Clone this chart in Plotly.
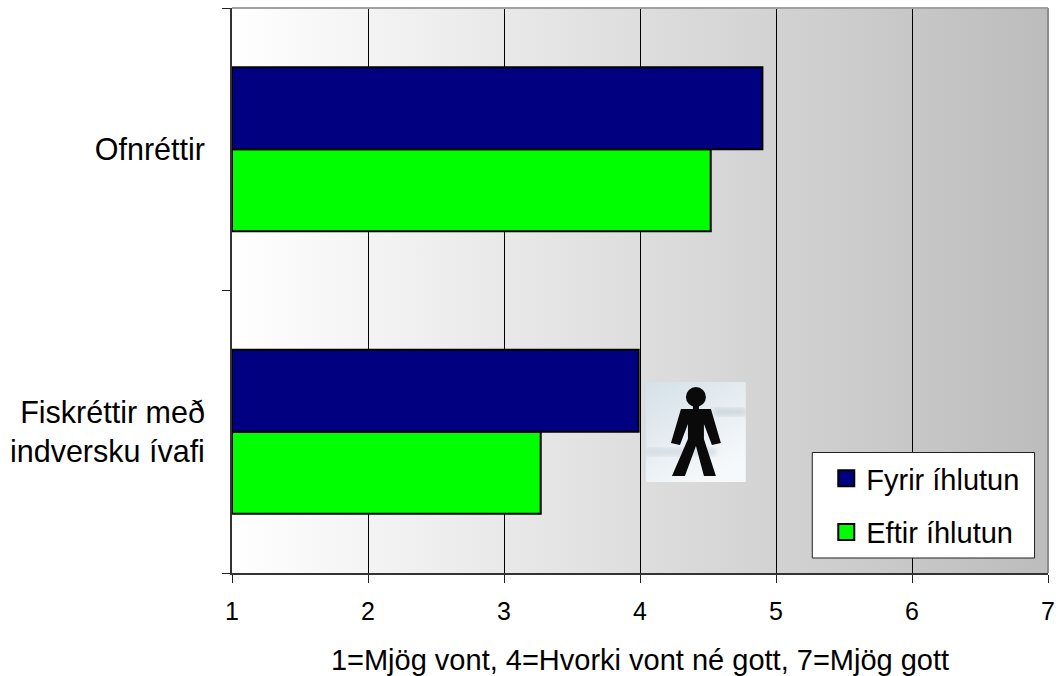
import base64
import plotly.graph_objects as go

categories = ["Fiskréttir með<br>indversku ívafi", "Ofnréttir"]
fyrir = [3.99, 4.90]
eftir = [3.27, 4.52]
x_ticks = [1, 2, 3, 4, 5, 6, 7]
x_title = "1=Mjög vont, 4=Hvorki vont né gott, 7=Mjög gott"
FONT = "Liberation Sans, Arial, sans-serif"


def svg_uri(svg):
    return "data:image/svg+xml;base64," + base64.b64encode(svg.encode()).decode()


def px_x(p):
    return (p - 231.5) / 817


def px_y(p):
    return (573 - p) / 565


gradient = svg_uri(
    '<svg xmlns="http://www.w3.org/2000/svg" width="100" height="100" preserveAspectRatio="none" viewBox="0 0 100 100">'
    '<defs><linearGradient id="g" x1="0" x2="1" y1="0" y2="0">'
    '<stop offset="0" stop-color="#ffffff"/><stop offset="1" stop-color="#bcbcbc"/>'
    '</linearGradient></defs><rect width="100" height="100" fill="url(#g)"/></svg>'
)
person = svg_uri(
    '<svg xmlns="http://www.w3.org/2000/svg" width="100" height="100" viewBox="0 0 100 100">'
    '<defs><linearGradient id="p" x1="0" x2="0.6" y1="0" y2="1">'
    '<stop offset="0" stop-color="#d5e0e8"/><stop offset="1" stop-color="#f6f9fb"/>'
    '</linearGradient><filter id="b"><feGaussianBlur stdDeviation="2"/></filter></defs>'
    '<rect width="100" height="100" fill="url(#p)"/>'
    '<rect x="68" y="26" width="32" height="8" fill="#b8c4cc" opacity="0.5" filter="url(#b)"/>'
    '<rect x="0" y="66" width="70" height="8" fill="#b8c4cc" opacity="0.35" filter="url(#b)"/>'
    '<circle cx="50" cy="15" r="10" fill="#0a0a0a"/>'
    '<path d="M47 22H53V28H47Z" fill="#0a0a0a"/>'
    '<path d="M35 27H65L75 61L66 63L58 42L58 57L70 94H58L50 64L39 94H26L42 57L42 42L34 63L25 61Z" fill="#0a0a0a"/>'
    '</svg>'
)

fig = go.Figure()
fig.add_bar(name="Eftir íhlutun", y=categories, x=[v - 1 for v in eftir], base=1, orientation="h",
            marker=dict(color="#00ff00", line=dict(color="#000000", width=2)), showlegend=False)
fig.add_bar(name="Fyrir íhlutun", y=categories, x=[v - 1 for v in fyrir], base=1, orientation="h",
            marker=dict(color="#000080", line=dict(color="#000000", width=2)), showlegend=False)
fig.add_scatter(name="Fyrir íhlutun", x=[None], y=[None], mode="markers", legendgroup="a",
                marker=dict(symbol="square", size=16, color="#000080", line=dict(color="#000000", width=2)))
fig.add_scatter(name="Eftir íhlutun", x=[None], y=[None], mode="markers", legendgroup="b",
                marker=dict(symbol="square", size=16, color="#00ff00", line=dict(color="#000000", width=2)))

fig.update_layout(
    width=1058, height=676,
    margin=dict(l=231.5, r=9.5, t=8, b=103, autoexpand=False),
    paper_bgcolor="#ffffff", plot_bgcolor="rgba(0,0,0,0)",
    barmode="group", bargap=0.42, bargroupgap=0,
    font=dict(family=FONT, color="#000000", size=24),
    xaxis=dict(range=[1, 7], tickvals=x_ticks, ticks="outside", ticklen=8, tickwidth=1,
               tickcolor="#222222", showline=True, linecolor="#333333", linewidth=2,
               showgrid=True, gridcolor="#000000", gridwidth=1, zeroline=False,
               tickfont=dict(size=25, family=FONT), ticklabelstandoff=7,
               title=dict(text=x_title, font=dict(size=29, family=FONT), standoff=26)),
    yaxis=dict(type="category", categoryorder="array", categoryarray=categories,
               range=[-0.5, 1.5], tickson="boundaries", ticks="outside", ticklen=8, tickwidth=1,
               tickcolor="#222222", showline=True, linecolor="#333333", linewidth=2,
               showgrid=False, zeroline=False, ticklabelstandoff=19,
               tickfont=dict(size=30.5, family=FONT)),
    legend=dict(x=px_x(826.5), y=px_y(453), xanchor="left", yanchor="top", bgcolor="rgba(0,0,0,0)",
                borderwidth=0, font=dict(size=29, family=FONT),
                itemwidth=30, tracegroupgap=13, traceorder="grouped"),
    images=[
        dict(source=gradient, xref="paper", yref="paper", x=0, y=1, sizex=1, sizey=1,
             xanchor="left", yanchor="top", sizing="stretch", layer="below"),
        dict(source=person, xref="paper", yref="paper", x=px_x(646), y=px_y(382),
             sizex=100 / 817, sizey=100 / 565,
             xanchor="left", yanchor="top", sizing="stretch", layer="above"),
    ],
    shapes=[
        dict(type="line", xref="paper", yref="paper", x0=0, x1=1, y0=1, y1=1,
             line=dict(color="#a0a0a0", width=2), layer="above"),
        dict(type="line", xref="paper", yref="paper", x0=1, x1=1, y0=0, y1=1,
             line=dict(color="#8c8c8c", width=2), layer="above"),
        dict(type="rect", xref="paper", yref="paper", x0=px_x(812.5), x1=px_x(1035), y0=px_y(452.5), y1=px_y(558),
             fillcolor="#ffffff", line=dict(color="#222222", width=1), layer="above"),
    ],
)
fig.write_html("out.html", config=dict(displayModeBar=False),
               post_script="document.body.style.margin='0';document.documentElement.style.overflow='hidden';")
